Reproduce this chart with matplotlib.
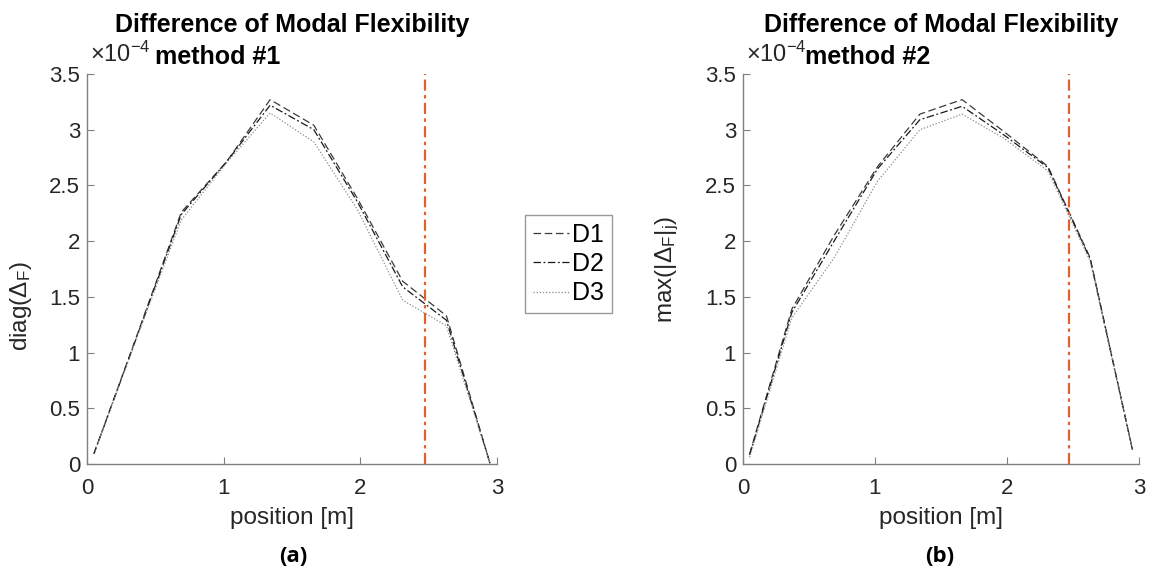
import numpy as np
import matplotlib
matplotlib.use('Agg')
import matplotlib.pyplot as plt
from matplotlib.ticker import FuncFormatter

plt.rcParams['font.family'] = ['Liberation Sans', 'DejaVu Sans']
plt.rcParams['mathtext.fontset'] = 'custom'
plt.rcParams['mathtext.rm'] = 'Liberation Sans'
plt.rcParams['mathtext.it'] = 'Liberation Sans:italic'

# sensor positions [m]
positions = [0.05, 0.37, 0.69, 1.02, 1.34, 1.66, 1.98, 2.31, 2.63, 2.95]
damage_pos = 2.47
scale = 1e-4

# method #1: diag(Delta_F), values in units of 1e-4
m1_d1 = [0.09, 1.17, 2.26, 2.71, 3.27, 3.04, 2.38, 1.64, 1.33, 0.0]
m1_d2 = [0.09, 1.16, 2.24, 2.71, 3.22, 3.00, 2.35, 1.59, 1.29, 0.0]
m1_d3 = [0.09, 1.15, 2.19, 2.70, 3.15, 2.89, 2.28, 1.47, 1.24, 0.0]

# method #2: max(|Delta_F|_j), values in units of 1e-4
m2_d1 = [0.09, 1.39, 2.05, 2.67, 3.14, 3.27, 2.98, 2.67, 1.85, 0.13]
m2_d2 = [0.08, 1.36, 2.00, 2.65, 3.09, 3.21, 2.95, 2.66, 1.84, 0.13]
m2_d3 = [0.06, 1.31, 1.85, 2.54, 3.00, 3.14, 2.92, 2.63, 1.82, 0.13]

labels = ['D1', 'D2', 'D3']
styles = [((0, (6, 3)), '#3a3a3a', 0.9),
          ((0, (6, 2, 1.5, 2)), '#1a1a1a', 0.9),
          ((0, (1, 1.5)), '#8c8c8c', 0.9)]

W, H = 1149, 572
fig = plt.figure(figsize=(W / 100, H / 100), dpi=100)
ax1 = fig.add_axes([87 / W, (H - 464) / H, 410 / W, 390 / H])
ax2 = fig.add_axes([743 / W, (H - 464) / H, 396 / W, 390 / H])

axis_grey = '#808080'
text_col = '#262626'


def draw_panel(ax, series, ylabel, ylab_x, ylab_y):
    x = np.array(positions)
    lines = []
    for vals, (ls, col, lw), lab in zip(series, styles, labels):
        ln, = ax.plot(x, np.array(vals) * scale, linestyle=ls, color=col,
                      linewidth=lw, label=lab)
        lines.append(ln)
    ax.axvline(damage_pos, color='#E0622A', linestyle=(0, (5, 2, 1.5, 2)),
               linewidth=1.6)
    ax.set_xlim(0, 3)
    ax.set_ylim(0, 3.5e-4)
    ax.set_xticks([0, 1, 2, 3])
    ax.set_yticks(np.arange(0, 3.51, 0.5) * scale)
    ax.yaxis.set_major_formatter(FuncFormatter(lambda v, p: f'{v / scale:g}'))
    for s in ['top', 'right']:
        ax.spines[s].set_visible(False)
    for s in ['left', 'bottom']:
        ax.spines[s].set_color(axis_grey)
        ax.spines[s].set_linewidth(1.0)
    ax.tick_params(direction='in', length=5, width=0.8, color=axis_grey,
                   labelsize=16, labelcolor=text_col)
    ax.tick_params(axis='x', pad=10)
    ax.tick_params(axis='y', pad=5)
    ax.set_xlabel('position [m]', fontsize=17.5, color=text_col)
    ax.xaxis.set_label_coords(0.5, -0.138)
    ax.xaxis.label.set_va('center')
    ax.set_ylabel(ylabel, fontsize=17.5, color=text_col)
    ax.yaxis.set_label_coords(ylab_x, ylab_y)
    ax.yaxis.label.set_va('center')
    ax.annotate(r'$\times10^{-4}$', xy=(0, 1), xycoords='axes fraction',
                xytext=(2, 5), textcoords='offset points', ha='left',
                va='bottom', fontsize=17, color=text_col)
    return lines


lines = draw_panel(ax1, [m1_d1, m1_d2, m1_d3], r'diag($\Delta_\mathrm{F}$)',
                   -0.161, 0.405)
draw_panel(ax2, [m2_d1, m2_d2, m2_d3], r'max(|$\Delta_\mathrm{F}$|$_\mathrm{j}$)',
           -0.192, 0.5)

# titles
for cx, sub_x, sub in [(292, 218, 'method #1'), (941, 868, 'method #2')]:
    fig.text(cx / W, 1 - 25 / H, 'Difference of Modal Flexibility',
             ha='center', va='center', fontsize=18, fontweight='bold')
    fig.text(sub_x / W, 1 - 57 / H, sub, ha='center', va='center',
             fontsize=18, fontweight='bold')

leg = fig.legend(lines, labels, loc='upper left',
                 bbox_to_anchor=(525 / W, 1 - 215 / H), borderaxespad=0,
                 fontsize=18, fancybox=False, handlelength=1.45,
                 handletextpad=0.15, labelspacing=0.22, borderpad=0.3)
leg.get_frame().set_edgecolor(axis_grey)
leg.get_frame().set_linewidth(1.0)

fig.text(293 / W, 1 - 557 / H, '(a)', ha='center', va='center',
         fontsize=16, fontweight='bold', family=['Open Sans', 'DejaVu Sans'])
fig.text(940 / W, 1 - 557 / H, '(b)', ha='center', va='center',
         fontsize=16, fontweight='bold', family=['Open Sans', 'DejaVu Sans'])

fig.savefig('out.png', dpi=100)
